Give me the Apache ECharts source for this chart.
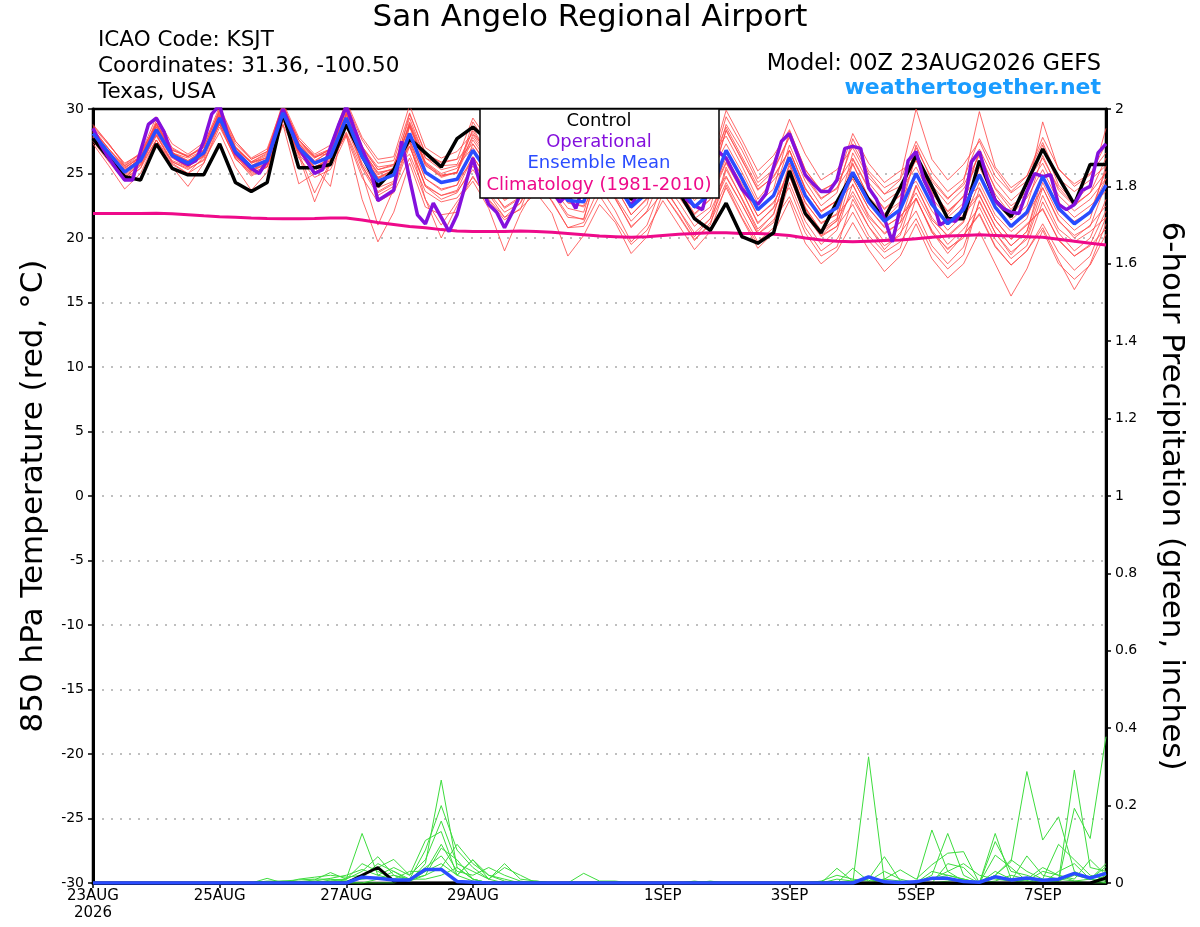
<!DOCTYPE html>
<html><head><meta charset="utf-8">
<script src="https://cdn.jsdelivr.net/npm/echarts@6/dist/echarts.min.js"></script>
<style>html,body{margin:0;padding:0;background:#fff}#c{width:1200px;height:927px}</style>
</head><body><div id="c"></div>
<script>
// x-axis tick labels (hours from 00Z 23AUG2026)
const tickHours = [0, 48, 96, 144, 216, 264, 312, 360];
const tickLabels = ['23AUG\n2026', '25AUG', '27AUG', '29AUG', '1SEP', '3SEP', '5SEP', '7SEP'];

// 6-hourly control (black) 850 hPa temperature, 0..384 h
const controlTemp = [
27.7,26.2,24.75,24.5,27.3,25.4,24.9,24.9,27.3,24.3,23.6,24.3,29.7,25.45,25.45,25.7,28.8,
26.4,24.0,25.3,27.7,26.6,25.5,27.7,28.6,27.5,25.5,25.0,27.8,27.0,25.5,25.0,27.5,
25.5,23.0,24.0,25.0,23.6,21.5,20.6,22.7,20.1,19.6,20.4,25.2,21.9,20.4,22.8,25.0,
23.0,21.5,23.9,26.4,24.0,21.5,21.5,26.0,22.9,21.65,24.3,26.9,24.7,22.6,25.7,25.7];

// 3-hourly operational (purple)
const operationalTemp = [
28.5,27.2,26.2,25.3,24.5,24.5,26.7,28.8,29.3,28.2,26.4,26.0,25.7,26.0,27.5,29.6,
30.3,28.0,26.6,26.0,25.4,25.0,26.0,28.0,30.0,28.5,27.0,26.0,25.0,25.3,27.0,28.7,
30.2,28.5,26.9,25.5,22.9,23.3,23.7,27.5,24.6,21.8,21.1,22.7,21.6,20.5,21.8,24.0,
26.2,24.0,22.6,22.0,20.8,22.0,23.4,24.8,26.5,25.0,23.6,22.8,23.4,22.3,24.0,25.6,
26.5,25.2,24.0,23.4,22.5,23.6,25.0,26.3,27.0,26.0,24.5,23.0,22.5,22.2,24.5,26.7,
26.2,25.0,23.8,23.1,22.6,23.4,25.5,27.5,28.1,26.5,24.9,24.2,23.6,23.6,24.5,26.95,
27.1,26.95,23.9,23.0,21.5,19.7,22.3,26.0,26.7,24.5,23.2,21.0,21.4,21.3,22.4,25.9,
26.7,24.6,22.9,22.3,22.0,21.9,23.6,25.0,24.75,24.9,22.6,22.2,22.6,23.7,24.0,26.6,
27.3];

// 6-hourly ensemble mean (blue)
const meanTemp = [
28.1,26.6,25.1,26.0,28.4,26.4,25.8,26.6,29.3,26.7,25.5,26.0,29.7,27.0,25.8,26.3,29.3,
26.3,24.4,24.9,28.1,25.1,24.3,24.55,26.8,25.0,23.5,24.2,26.5,25.0,22.9,22.8,26.2,
24.5,22.4,23.5,26.0,24.3,22.4,23.5,26.8,24.6,22.2,23.3,26.25,23.3,21.6,22.35,25.1,
22.8,21.3,22.2,25.0,22.6,21.1,22.2,24.9,22.4,20.9,22.0,24.75,22.3,21.1,22.0,24.1];

// climatology (magenta)
const climTemp = [
21.9,21.9,21.9,21.9,21.92,21.88,21.8,21.72,21.65,21.6,21.55,21.52,21.5,21.5,21.52,21.55,21.55,
21.4,21.2,21.05,20.9,20.8,20.65,20.55,20.5,20.5,20.5,20.55,20.5,20.45,20.35,20.25,20.15,
20.1,20.05,20.1,20.2,20.3,20.35,20.4,20.4,20.35,20.35,20.3,20.2,20.0,19.85,19.75,19.7,
19.75,19.8,19.85,19.95,20.05,20.15,20.2,20.25,20.2,20.15,20.1,20.05,19.9,19.75,19.6,19.45];

// ensemble members (red), 6-hourly
const member01 = [28.7,27.3,25.6,26.5,28.9,26.8,26.4,27.0,30.0,27.5,26.1,26.7,30.1,27.4,26.3,26.6,30.1,
27.0,25.3,25.6,29.3,26.2,25.6,25.7,28.3,26.4,25.1,25.6,28.3,26.9,24.9,24.8,28.1,
26.5,24.5,25.4,28.3,26.5,24.8,25.7,28.6,26.3,24.0,25.2,27.8,24.9,23.1,23.8,27.3,
25.0,23.4,24.5,27.5,25.1,23.6,24.6,27.7,25.3,23.6,24.8,27.8,25.4,24.0,24.9,27.3];
const member02 = [27.5,26.2,24.5,25.6,27.6,25.5,24.0,25.8,28.6,26.2,24.8,25.5,28.8,26.2,24.7,25.3,27.9,
24.7,22.8,23.5,26.2,23.0,21.0,22.8,24.4,22.3,19.0,21.9,24.1,22.9,20.8,20.9,23.3,
21.4,19.5,20.6,22.9,21.0,19.1,20.5,24.1,21.6,19.5,20.4,22.9,19.6,18.0,19.0,21.2,
19.1,17.4,18.6,21.1,18.4,16.9,18.0,20.5,18.0,15.5,17.6,20.6,18.0,16.8,17.9,20.3];
const member03 = [28.3,26.9,25.5,26.2,28.3,26.7,25.6,26.5,29.9,27.1,25.9,26.6,30.5,27.8,26.5,27.2,30.6,
27.8,26.1,26.3,30.3,27.0,26.2,26.7,28.1,26.6,25.0,25.7,27.6,25.9,24.2,24.0,26.6,
25.1,22.9,24.0,26.0,24.4,22.3,23.4,26.2,24.2,21.7,22.7,25.2,22.4,20.5,21.3,23.6,
21.4,19.7,20.8,24.1,21.4,20.2,21.3,24.3,21.8,20.5,21.5,24.9,22.1,21.3,22.0,24.6];
const member04 = [27.9,26.0,24.6,25.9,28.0,25.8,25.0,26.3,29.6,26.6,25.2,26.1,30.4,27.2,25.9,26.8,29.1,
25.6,23.6,24.3,27.5,24.0,23.0,23.5,25.6,23.4,21.6,22.7,24.8,22.8,20.8,21.2,24.0,
22.1,19.7,21.0,24.2,22.2,20.1,21.5,25.5,23.0,20.5,21.9,25.6,22.3,20.2,21.4,25.8,
23.1,21.4,22.7,26.3,23.5,21.8,23.3,26.6,23.8,22.2,23.7,27.2,24.1,22.8,24.1,28.5];
const member05 = [28.2,26.5,25.3,26.1,28.9,26.6,26.2,26.8,29.4,27.0,25.8,26.4,29.4,26.7,25.5,26.2,30.5,
27.1,25.5,25.7,28.7,25.8,24.9,25.0,29.0,27.1,25.6,26.0,29.2,27.4,25.8,25.4,28.1,
26.6,24.3,25.6,27.6,25.6,23.9,25.1,29.4,27.2,24.6,25.9,29.2,26.5,24.5,25.3,27.0,
24.7,23.4,24.0,26.0,23.8,22.0,23.2,25.0,22.3,20.9,21.8,23.9,21.4,20.0,21.0,22.5];
const member06 = [28.4,26.7,25.4,26.3,28.0,26.0,25.5,26.4,28.8,26.2,24.9,25.5,28.8,24.2,25.0,25.6,28.2,
25.4,23.3,24.0,27.4,23.0,20.0,22.5,24.8,22.9,21.4,22.3,23.5,21.9,18.6,20.2,22.6,
21.2,18.8,20.1,23.5,21.7,19.8,21.2,23.9,21.5,19.2,20.4,24.3,21.3,19.5,20.6,24.2,
21.6,20.4,21.2,23.1,20.5,18.8,20.2,21.8,19.3,17.9,19.0,21.1,18.9,17.5,18.6,21.6];
const member07 = [27.3,25.6,23.8,25.0,27.6,25.9,25.4,26.0,28.2,25.5,23.7,25.1,29.2,26.5,25.1,25.8,29.3,
26.4,24.6,25.3,28.8,25.8,24.8,25.1,28.0,26.3,24.6,25.1,26.6,25.1,23.0,22.8,25.4,
23.2,21.3,22.6,27.1,25.4,23.4,24.6,28.8,26.8,24.3,25.3,27.9,24.7,23.0,23.9,25.7,
23.2,21.9,22.8,27.2,24.4,23.0,24.3,29.8,25.5,23.9,24.8,27.4,24.6,23.6,24.5,25.6];
const member08 = [28.6,27.2,25.8,26.5,29.4,27.3,26.5,27.4,29.7,27.0,25.9,26.2,30.3,27.3,26.2,26.9,29.6,
26.7,25.1,25.3,27.6,24.6,23.7,24.1,27.3,25.4,24.1,24.8,28.2,26.4,24.7,24.5,28.8,
27.2,24.8,26.1,29.1,27.2,25.4,26.4,27.9,25.6,23.0,24.5,25.8,22.7,21.2,21.8,23.3,
20.9,19.1,20.4,22.1,19.4,18.0,19.3,22.8,20.4,18.7,20.1,23.9,21.3,20.2,20.9,24.2];
const member09 = [27.9,26.5,24.9,25.8,28.6,26.5,25.9,26.5,29.1,26.3,25.2,25.8,29.2,26.6,23.5,25.9,28.0,
23.0,19.7,22.0,25.8,22.4,21.8,22.0,26.0,24.1,22.3,23.1,26.6,25.1,23.3,23.1,27.1,
25.6,23.5,24.4,26.2,24.2,22.5,23.3,25.9,23.7,21.1,22.4,23.9,20.8,19.0,19.9,22.0,
19.8,18.4,19.2,23.1,20.4,19.2,20.0,23.8,21.4,19.9,21.1,22.2,19.9,18.6,19.4,20.7];
const member10 = [28.5,26.9,25.6,26.3,29.1,27.0,26.3,27.2,30.2,27.5,26.2,26.9,30.3,27.6,26.2,26.9,30.4,
27.6,25.8,26.0,29.7,26.5,25.9,26.1,27.3,25.6,24.0,24.6,26.1,24.4,22.8,22.4,24.6,
23.1,20.8,22.1,25.0,23.2,21.5,22.4,26.7,24.7,22.3,23.4,27.2,24.4,22.5,23.5,27.7,
25.2,23.9,24.6,30.0,26.1,24.5,25.7,27.5,24.8,23.5,24.4,26.2,23.9,22.6,23.5,26.2];
const member11 = [27.8,26.1,24.7,25.7,28.1,26.2,25.5,26.5,28.8,26.1,25.1,25.5,29.4,26.8,25.4,26.0,28.6,
25.6,23.5,24.2,28.7,25.7,24.7,25.1,28.5,26.4,25.1,25.6,28.6,27.0,25.3,24.9,27.4,
25.4,23.4,24.6,28.2,26.2,24.4,25.6,29.9,27.6,25.2,26.4,28.4,25.3,23.7,24.3,26.2,
23.9,22.2,23.3,24.4,22.1,20.6,21.8,23.3,20.9,19.4,20.5,24.9,22.2,21.2,22.0,25.2];
const member12 = [28.2,26.7,25.2,26.2,28.7,26.6,26.0,26.8,29.4,26.6,25.6,26.0,30.2,27.6,26.3,26.8,29.9,
26.7,24.9,25.4,26.5,23.6,22.8,23.1,24.7,23.0,21.6,22.2,25.4,23.9,22.3,22.0,26.0,
24.6,22.3,23.5,24.4,22.8,20.9,22.1,24.7,22.6,20.3,21.4,23.2,20.4,18.6,19.3,23.0,
20.9,19.4,20.2,24.0,21.6,20.1,21.2,25.5,22.9,21.4,22.5,26.4,23.7,22.5,23.5,25.1];
const member13 = [28.0,26.4,25.0,26.1,28.2,26.3,25.6,26.3,29.8,27.0,25.9,26.5,30.1,27.3,25.9,26.4,29.7,
26.5,24.7,25.3,29.0,26.2,25.3,25.6,27.0,25.1,23.3,24.2,25.0,23.6,21.8,21.4,25.8,
24.0,21.8,23.1,26.6,24.7,22.9,24.0,28.4,26.0,23.8,24.7,26.8,23.9,22.0,22.9,24.6,
22.3,20.9,21.6,23.5,21.2,19.5,20.7,22.4,19.9,18.4,19.4,22.8,20.4,19.0,20.0,23.0];
const member14 = [27.5,25.9,24.4,25.4,27.6,25.7,25.0,25.8,28.9,26.4,25.0,25.6,29.1,26.4,22.8,25.8,28.1,
25.0,21.0,23.8,27.1,24.0,23.3,23.7,26.3,24.5,22.9,23.7,27.0,25.5,23.8,23.4,27.7,
26.0,23.8,25.0,27.0,25.3,23.4,24.5,26.3,24.0,21.7,22.8,24.8,21.8,20.1,20.9,25.1,
22.8,21.4,22.1,26.5,24.1,22.6,23.8,25.9,23.4,21.8,23.1,25.3,22.8,21.6,22.5,23.6];
const member15 = [28.8,27.3,25.7,26.6,28.8,26.8,26.3,27.0,29.9,27.3,26.1,26.7,30.0,27.3,26.0,26.7,29.3,
26.2,24.4,25.0,28.9,25.9,25.0,25.4,27.8,26.1,24.4,25.2,28.5,27.0,25.1,25.0,27.2,
25.5,23.3,24.6,25.5,23.8,21.8,23.0,24.8,22.6,20.3,21.2,25.3,22.3,20.6,21.5,26.1,
23.8,22.3,23.3,27.0,24.6,23.1,24.1,26.4,23.9,22.5,23.4,29.0,25.3,24.2,25.0,26.6];
const member16 = [28.0,26.4,25.0,26.1,28.8,26.6,25.9,26.8,29.5,27.0,25.8,26.2,29.9,27.2,25.5,24.0,29.8,
26.9,25.0,25.4,28.0,25.2,24.3,24.5,25.9,24.0,22.4,23.2,25.0,23.5,21.6,21.5,25.7,
24.0,21.8,23.0,24.0,22.2,20.4,21.5,24.3,22.0,19.7,20.8,24.8,21.7,20.2,20.9,22.6,
20.2,18.9,19.7,21.5,19.0,17.6,18.7,22.9,20.4,18.9,19.9,23.3,20.7,19.7,20.5,21.6];
const member17 = [28.4,26.9,25.4,26.3,28.9,26.9,26.3,27.1,29.5,27.0,25.6,26.3,29.4,26.7,25.5,26.0,30.1,
27.1,25.3,25.7,27.6,24.6,23.8,24.1,26.3,24.5,23.0,23.7,27.5,26.0,24.2,24.0,28.2,
26.5,24.4,25.5,27.5,25.8,23.9,25.0,27.3,25.1,22.7,23.8,28.3,25.3,23.6,24.4,28.1,
25.8,24.3,25.2,26.0,23.6,22.1,23.2,23.9,21.4,19.9,21.0,22.3,19.8,18.6,19.5,22.1];
const member18 = [27.8,26.3,24.8,25.7,27.9,25.9,25.3,26.1,29.1,26.5,25.3,25.8,29.3,26.6,25.4,25.9,28.8,
25.8,23.9,24.4,28.6,25.6,24.8,25.1,27.6,25.8,24.3,25.0,27.0,25.5,23.7,23.5,24.7,
23.0,20.9,22.0,23.5,21.8,19.9,21.0,25.3,23.1,20.7,21.8,25.8,22.8,21.1,21.9,26.6,
24.3,22.8,23.7,25.5,23.1,21.6,22.7,26.9,24.4,22.9,24.0,25.8,23.3,22.1,23.0,24.6];
const member19 = [28.3,26.6,25.2,26.2,28.6,26.6,26.0,26.8,29.4,26.8,25.6,26.1,30.3,27.6,26.4,26.9,29.5,
26.5,24.6,25.1,27.1,24.1,23.3,23.6,25.3,23.5,22.0,22.7,26.0,24.5,22.7,22.5,26.7,
25.0,22.9,24.0,27.0,25.3,23.4,24.5,28.3,26.1,23.7,24.8,26.8,23.8,22.1,22.9,24.1,
21.8,20.3,21.2,25.0,22.6,21.1,22.2,23.4,20.9,19.4,20.5,24.3,21.8,20.6,21.5,25.6];
const member20 = [27.6,26.1,24.6,25.4,28.3,26.3,25.5,26.4,29.0,26.4,25.2,25.7,29.5,26.8,25.5,26.1,29.6,
26.6,24.7,25.2,29.6,26.6,25.8,26.1,29.3,27.5,26.0,26.7,28.0,26.5,24.7,24.5,26.7,
25.0,22.9,24.0,25.5,23.8,21.9,23.0,25.8,23.6,21.2,22.3,26.8,23.8,22.1,22.9,24.6,
22.3,20.8,21.7,23.0,20.6,19.1,20.2,21.9,19.4,17.9,19.0,20.8,18.3,16.0,18.0,21.1];

// 6-hour precipitation (inches): control, ensemble mean, members (green)
const controlPrecip = [0,0,0,0,0,0,0,0,0,0,0,0,0,0,0,0,0,
0.02,0.04,0.005,0,0,0,0,0,0,0,0,0,0,0,0,0,
0,0,0,0,0,0,0,0,0,0,0,0,0,0,0,0,
0,0,0,0,0,0,0,0,0,0,0,0,0,0,0,0.013];
const meanPrecip = [0,0,0,0,0,0,0,0,0,0,0,0,0,0,0,0,0,
0.015,0.012,0.008,0.008,0.035,0.035,0.004,0.002,0,0,0,0,0,0,0,0,
0,0,0,0,0,0,0,0,0,0,0,0,0,0,0,0,
0.016,0.003,0.001,0.003,0.012,0.012,0.004,0.002,0.016,0.008,0.013,0.007,0.01,0.025,0.013,0.025];
const precip01 = [0,0,0,0,0,0,0,0,0,0,0,0.005,0.005,0.003,0.008,0.027,0.01,
0.128,0.02,0.01,0.005,0.05,0.266,0.04,0.01,0,0,0,0,0,0,0,0,
0,0,0,0,0,0,0,0,0,0,0,0,0,0,0,0,
0.326,0.005,0,0,0.01,0.02,0.01,0,0.02,0.055,0.288,0.111,0.171,0.03,0.01,0];
const precip02 = [0,0,0,0,0,0,0,0,0,0,0,0.012,0,0,0,0.005,0.01,
0.03,0.068,0.02,0.01,0.085,0.2,0.085,0.04,0.01,0,0,0,0,0,0,0,
0,0,0,0,0,0,0,0,0,0,0,0,0,0,0.038,0.005,
0.01,0.068,0.005,0,0.137,0.03,0.005,0,0.128,0.01,0,0,0.005,0.292,0.04,0.03];
const precip03 = [0,0,0,0,0,0,0,0,0,0,0,0,0,0.01,0.015,0.02,0.015,
0.02,0.04,0.061,0.02,0.11,0.133,0.02,0.06,0.02,0.01,0,0,0,0,0,0,
0,0,0,0,0,0,0,0,0,0,0,0,0,0,0,0.038,
0.005,0.01,0.034,0.01,0.047,0.077,0.081,0,0.107,0.03,0.02,0.005,0.005,0.193,0.115,0.378];
const precip04 = [0,0,0,0,0,0,0,0,0,0,0,0,0.005,0.008,0.01,0.01,0.005,
0.01,0.015,0.01,0.03,0.03,0.1,0.03,0.02,0.04,0.02,0.005,0,0,0,0,0,
0,0,0,0,0,0,0,0,0,0,0,0,0,0,0,0,
0,0,0,0,0.02,0.128,0.02,0,0.072,0.04,0.005,0,0.03,0.05,0.01,0.042];
const precip05 = [0,0,0,0,0,0,0,0,0,0,0,0,0,0,0.005,0.012,0.02,
0.035,0.02,0.04,0.02,0.06,0.16,0.05,0.03,0.01,0.04,0.02,0,0,0,0,0,
0,0,0,0,0,0,0,0,0,0,0,0,0,0.005,0.02,0.01,
0.005,0.03,0.01,0,0.01,0.03,0.05,0.02,0.01,0.005,0.07,0.02,0.01,0.005,0,0.02];
const precip06 = [0,0,0,0,0,0,0,0,0,0,0,0,0,0,0,0.008,0.01,
0.05,0.03,0.01,0.01,0.04,0.07,0.02,0.06,0.01,0.05,0.01,0.005,0,0,0,0,
0,0,0,0,0,0,0,0,0,0,0,0,0,0,0,0,
0,0,0,0,0,0,0,0,0,0,0.01,0.04,0.02,0.01,0.06,0.02];
const precip07 = [0,0,0,0,0,0,0,0,0,0,0,0,0,0,0,0,0,
0.02,0.01,0.03,0.005,0.02,0.09,0.06,0.01,0,0,0,0.005,0,0,0.025,0.005,
0.005,0,0,0,0,0,0,0,0,0,0,0,0,0,0,0,
0,0,0,0,0.03,0.02,0.01,0,0.02,0.06,0.03,0.01,0.1,0.06,0.02,0.01];
const precip08 = [0,0,0,0,0,0,0,0,0,0,0,0,0,0,0,0,0.005,
0.015,0.05,0.03,0.01,0.02,0.04,0.1,0.05,0.02,0.005,0,0,0,0,0,0,
0,0,0,0,0,0,0.005,0,0,0,0,0,0,0,0,0,
0,0,0,0,0,0.05,0.04,0,0.005,0.02,0.01,0,0.005,0.02,0.01,0.05];
const precip09 = [0,0,0,0,0,0,0,0,0,0,0,0,0,0,0,0,0,
0,0.01,0.02,0.005,0.03,0.05,0.02,0.005,0,0,0,0,0,0,0,0,
0,0,0,0,0,0.005,0,0,0,0,0,0,0,0,0.01,0.005,
0,0.01,0.005,0,0,0.005,0.01,0,0.03,0.01,0.005,0.03,0.02,0.005,0.01,0.005];
const precip10 = [0,0,0,0,0,0,0,0,0,0,0,0,0,0,0,0,0,
0,0,0,0.01,0.01,0.02,0.04,0.01,0,0,0,0,0,0,0,0,
0,0,0,0,0,0,0,0,0,0,0,0,0,0,0,0,
0,0,0,0,0,0,0,0,0,0,0,0,0,0,0,0];

const members = [member01,member02,member03,member04,member05,member06,member07,member08,member09,member10,
  member11,member12,member13,member14,member15,member16,member17,member18,member19,member20];
const precipMembers = [precip01,precip02,precip03,precip04,precip05,precip06,precip07,precip08,precip09,precip10];

const six = arr => arr.map((v, i) => [i * 6, v]);
const three = arr => arr.map((v, i) => [i * 3, v]);
const FONT = '"DejaVu Sans", "Liberation Sans", Arial, sans-serif';

const series = [];
members.forEach(m => series.push({type:'line', data:six(m), yAxisIndex:0, symbol:'none', silent:true, z:2,
  lineStyle:{color:'rgba(255,70,70,0.8)', width:1}}));
precipMembers.forEach(m => series.push({type:'line', data:six(m), yAxisIndex:1, symbol:'none', silent:true, z:2,
  lineStyle:{color:'#3ddc3d', width:1}}));
series.push({type:'line', data:six(climTemp), yAxisIndex:0, symbol:'none', z:3, lineStyle:{color:'#ee0a8a', width:3}});
series.push({type:'line', data:six(controlTemp), yAxisIndex:0, symbol:'none', z:4, lineStyle:{color:'#000', width:3.5}});
series.push({type:'line', data:three(operationalTemp), yAxisIndex:0, symbol:'none', z:5, lineStyle:{color:'#8410dd', width:3.5}});
series.push({type:'line', data:six(meanTemp), yAxisIndex:0, symbol:'none', z:6, lineStyle:{color:'#2a4cff', width:3.5}});
series.push({type:'line', data:six(controlPrecip), yAxisIndex:1, symbol:'none', z:4, lineStyle:{color:'#000', width:3}});
series.push({type:'line', data:six(meanPrecip), yAxisIndex:1, symbol:'none', z:6, lineStyle:{color:'#2a4cff', width:3.5}});

const labelMap = {};
tickHours.forEach((h, k) => labelMap[h] = tickLabels[k]);

const chart = echarts.init(document.getElementById('c'));
chart.setOption({
  animation: false,
  backgroundColor: '#fff',
  textStyle: {fontFamily: FONT},
  grid: {left: 93, right: 94, top: 109, bottom: 44, show: true, borderColor: '#000', borderWidth: 2.5, backgroundColor: 'transparent'},
  xAxis: {
    type: 'value', min: 0, max: 384,
    axisLine: {show: true, onZero: false, lineStyle: {color: '#000', width: 3}},
    axisTick: {show: true, customValues: tickHours, length: 5, lineStyle: {color: '#000', width: 1.5}},
    axisLabel: {customValues: tickHours, formatter: v => labelMap[v] || '', color: '#000', fontSize: 15, margin: 5, lineHeight: 17, fontFamily: FONT},
    splitLine: {show: false}
  },
  yAxis: [{
    type: 'value', min: -30, max: 30, interval: 5, position: 'left',
    name: '850 hPa Temperature (red, \u00B0C)', nameLocation: 'middle', nameGap: 44, nameRotate: 90,
    nameTextStyle: {fontSize: 31, color: '#000', fontFamily: FONT},
    axisLine: {show: true, lineStyle: {color: '#000', width: 3}},
    axisTick: {show: true, length: 5, lineStyle: {color: '#000', width: 1.5}},
    axisLabel: {color: '#000', fontSize: 14, margin: 9, fontFamily: FONT},
    splitLine: {show: true, showMinLine: false, showMaxLine: false, lineStyle: {color: '#aaa', type: [2, 7], width: 1.5}}
  }, {
    type: 'value', min: 0, max: 2, interval: 0.2, position: 'right',
    name: '6-hour Precipitation (green, inches)', nameLocation: 'middle', nameGap: 50, nameRotate: -90,
    nameTextStyle: {fontSize: 31, color: '#000', fontFamily: FONT},
    axisLine: {show: true, lineStyle: {color: '#000', width: 3}},
    axisTick: {show: true, length: 5, lineStyle: {color: '#000', width: 1.5}},
    axisLabel: {color: '#000', fontSize: 14, margin: 9, fontFamily: FONT, formatter: v => String(+v.toFixed(1))},
    splitLine: {show: false}
  }],
  graphic: [
    {type:'text', x: 590, y: 2, style:{text:'San Angelo Regional Airport', font:'31px ' + FONT, fill:'#000', align:'center'}},
    {type:'text', x: 98, y: 29, style:{text:'ICAO Code: KSJT', font:'21.5px ' + FONT, fill:'#000'}},
    {type:'text', x: 98, y: 55, style:{text:'Coordinates: 31.36, -100.50', font:'21.5px ' + FONT, fill:'#000'}},
    {type:'text', x: 98, y: 81, style:{text:'Texas, USA', font:'21.5px ' + FONT, fill:'#000'}},
    {type:'text', x: 1101, y: 53, style:{text:'Model: 00Z 23AUG2026 GEFS', font:'22.5px ' + FONT, fill:'#000', align:'right'}},
    {type:'text', x: 1101, y: 77, style:{text:'weathertogether.net', font:'bold 22px ' + FONT, fill:'#1a9cff', align:'right'}},
    {type:'rect', z: 100, shape:{x:480, y:109, width:239, height:89}, style:{fill:'#fff', stroke:'#000', lineWidth:1.5}},
    {type:'text', z: 101, x: 599, y: 112, style:{text:'Control', font:'18px ' + FONT, fill:'#000', align:'center'}},
    {type:'text', z: 101, x: 599, y: 133, style:{text:'Operational', font:'18px ' + FONT, fill:'#8410dd', align:'center'}},
    {type:'text', z: 101, x: 599, y: 154, style:{text:'Ensemble Mean', font:'18px ' + FONT, fill:'#2a4cff', align:'center'}},
    {type:'text', z: 101, x: 599, y: 176, style:{text:'Climatology (1981-2010)', font:'18px ' + FONT, fill:'#ee0a8a', align:'center'}}
  ],
  series: series
});
</script>
</body></html>
